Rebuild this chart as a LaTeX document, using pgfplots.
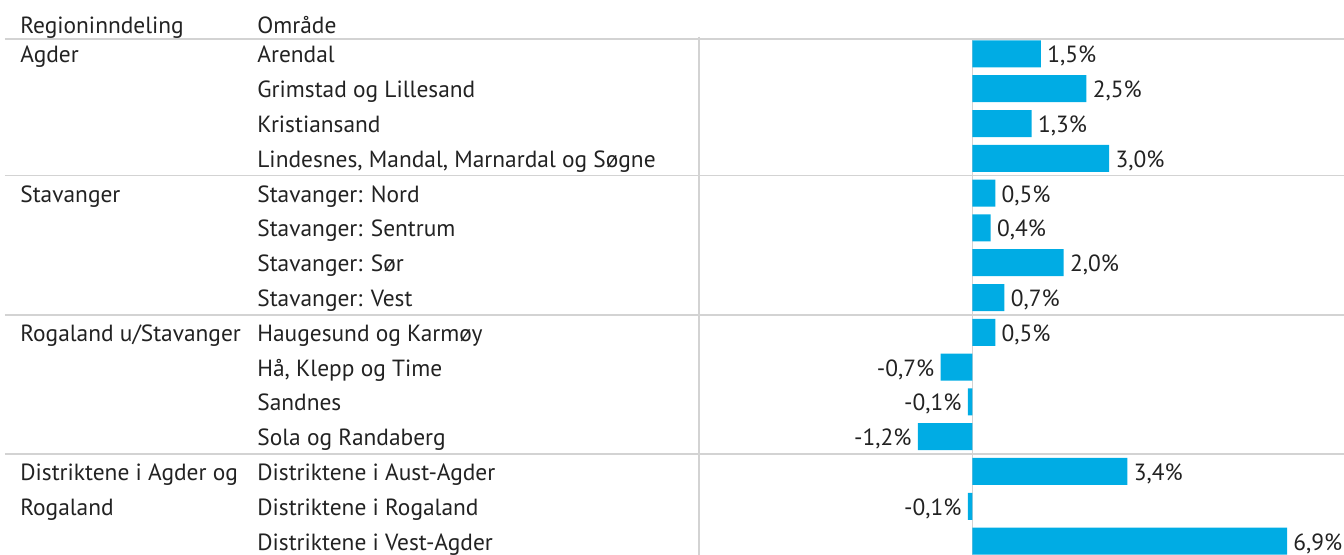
\documentclass[border=0pt]{standalone}
\usepackage{fontspec}
\setmainfont{PT Sans}
\usepackage{pgfplots}
\pgfplotsset{compat=1.18}
\definecolor{barblue}{HTML}{00ACE4}
\definecolor{gridgray}{HTML}{D3D3D3}
\definecolor{txt}{HTML}{222222}
\newcommand{\lblfont}{\fontsize{11.7}{14}\selectfont}
\tikzset{txtbox/.style={text height=11.5pt, text depth=2.5pt}}

\begin{document}
\begin{tikzpicture}[font=\lblfont, text=txt]
\begin{axis}[
  xbar, bar shift=0pt, bar width=13.5pt,
  scale only axis, width=322.5pt, height=258pt,
  xmin=-6, xmax=8.15, ymin=-0.43, ymax=14.4, y dir=reverse,
  axis line style={draw=none}, xtick=\empty,
  ytick={0,...,14},
  yticklabels={Arendal, Grimstad og Lillesand, Kristiansand,
    {Lindesnes, Mandal, Marnardal og Søgne},
    Stavanger: Nord, Stavanger: Sentrum, Stavanger: Sør, Stavanger: Vest,
    Haugesund og Karmøy, {Hå, Klepp og Time}, Sandnes, Sola og Randaberg,
    Distriktene i Aust-Agder, Distriktene i Rogaland, Distriktene i Vest-Agder},
  major tick length=0pt, tick style={draw=none},
  yticklabel style={anchor=west, inner sep=0pt, xshift=-221pt, font=\lblfont, txtbox},
  clip=false,
  nodes near coords, point meta=explicit symbolic,
  nodes near coords style={font=\lblfont, inner sep=3pt, text=txt, txtbox},
]
% grid lines
\draw[gridgray, line width=0.6pt] (axis cs:0,-0.43) -- (axis cs:0,14.4);
\draw[gridgray, line width=0.6pt] (axis cs:-6,-0.5) -- (axis cs:-6,14.4);
\draw[gridgray, line width=0.6pt] ([xshift=-347pt]axis cs:-6,-0.43) -- (axis cs:8.15,-0.43);
\draw[gridgray, line width=0.6pt] ([xshift=-347pt]axis cs:-6,3.5) -- (axis cs:8.15,3.5);
\draw[gridgray, line width=0.6pt] ([xshift=-347pt]axis cs:-6,7.5) -- (axis cs:8.15,7.5);
\draw[gridgray, line width=0.6pt] ([xshift=-347pt]axis cs:-6,11.5) -- (axis cs:8.15,11.5);

% positive changes
\addplot[fill=barblue, draw=none, nodes near coords style={anchor=west}] coordinates {
  (1.5,0) [1,5\%]
  (2.5,1) [2,5\%]
  (1.3,2) [1,3\%]
  (3.0,3) [3,0\%]
  (0.5,4) [0,5\%]
  (0.4,5) [0,4\%]
  (2.0,6) [2,0\%]
  (0.7,7) [0,7\%]
  (0.5,8) [0,5\%]
  (3.4,12) [3,4\%]
  (6.9,14) [6,9\%]
};
% negative changes
\addplot[fill=barblue, draw=none, nodes near coords style={anchor=east}] coordinates {
  (-0.7,9) [-0,7\%]
  (-0.1,10) [-0,1\%]
  (-1.2,11) [-1,2\%]
  (-0.1,13) [-0,1\%]
};

% headers and region names
\node[anchor=west, inner sep=0pt, txtbox] at ([xshift=-339.5pt, yshift=7pt]axis cs:-6,-0.43) {Regioninndeling};
\node[anchor=west, inner sep=0pt, txtbox] at ([xshift=-221pt, yshift=7pt]axis cs:-6,-0.43) {Område};
\node[anchor=west, inner sep=0pt, txtbox] at ([xshift=-339.5pt]axis cs:-6,0) {Agder};
\node[anchor=west, inner sep=0pt, txtbox] at ([xshift=-339.5pt]axis cs:-6,4) {Stavanger};
\node[anchor=west, inner sep=0pt, txtbox] at ([xshift=-339.5pt]axis cs:-6,8) {Rogaland u/Stavanger};
\node[anchor=west, inner sep=0pt, txtbox] at ([xshift=-339.5pt]axis cs:-6,12) {Distriktene i Agder og};
\node[anchor=west, inner sep=0pt, txtbox] at ([xshift=-339.5pt]axis cs:-6,13) {Rogaland};
\end{axis}
\pgfresetboundingbox
\path ([xshift=-349.5pt]current axis.south west) rectangle ([yshift=19.5pt]current axis.north east);
\end{tikzpicture}
\end{document}
